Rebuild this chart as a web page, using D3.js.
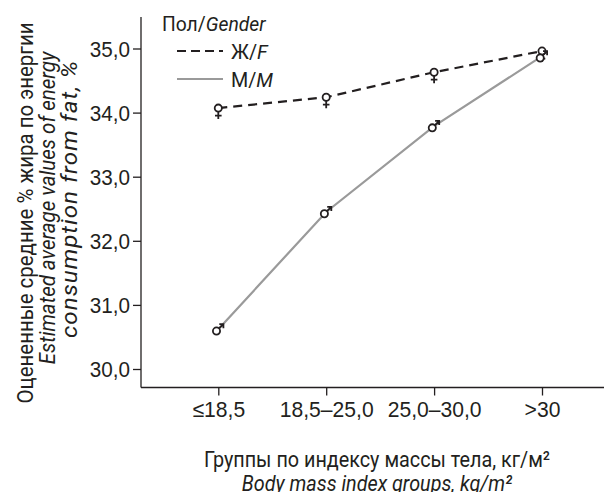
<!DOCTYPE html>
<html>
<head>
<meta charset="utf-8">
<script src="https://cdn.jsdelivr.net/npm/d3@7"></script>
<style>
  html, body { margin: 0; padding: 0; background: #fff; }
  svg { display: block; font-family: Roboto, "Liberation Sans", sans-serif; }
</style>
</head>
<body>
<svg id="chart" width="604" height="492"></svg>
<script>
// BMI groups and estimated mean share of energy from fat (%)
const categories = ["≤18,5", "18,5–25,0", "25,0–30,0", ">30"];
const female = [34.07, 34.24, 34.63, 34.96];
const male = [30.62, 32.45, 33.79, 34.88];
const yTicks = [30, 31, 32, 33, 34, 35];

const svg = d3.select("#chart");
const ink = "#231f20";
const grey = "#9a9a9a";

const x = d3.scalePoint().domain(categories).range([218.3, 542]);
const y = d3.scaleLinear().domain([30, 35]).range([369, 48.5]);

const axisX = 141, axisY = 387.5, yTop = 17;

// axis lines
svg.append("line").attr("x1", axisX).attr("x2", axisX).attr("y1", yTop).attr("y2", axisY)
  .attr("stroke", ink).attr("stroke-width", 1.3);
svg.append("line").attr("x1", axisX).attr("x2", 604).attr("y1", axisY).attr("y2", axisY)
  .attr("stroke", ink).attr("stroke-width", 1.3);

const fmt = d => d.toFixed(1).replace(".", ",");

// narrow text: scale glyphs horizontally around their anchor
function narrow(sel, sx) {
  sel.each(function () {
    const t = d3.select(this);
    const tx = +t.attr("x") || 0, ty = +t.attr("y") || 0;
    t.attr("x", 0).attr("y", 0)
      .attr("transform", `translate(${tx},${ty}) scale(${sx},1)`);
  });
}

const gy = svg.append("g").attr("transform", `translate(${axisX},0)`)
  .call(d3.axisLeft(y).tickValues(yTicks).tickFormat(fmt).tickSize(8).tickPadding(3));
gy.select(".domain").remove();
gy.selectAll("line").attr("stroke", ink).attr("stroke-width", 1.3);
gy.selectAll("text").attr("fill", ink).style("font-size", "22px").attr("dy", "0.36em")
  .call(narrow, 0.94);

const gx = svg.append("g").attr("transform", `translate(0,${axisY})`)
  .call(d3.axisBottom(x).tickSize(8).tickPadding(6));
gx.select(".domain").remove();
gx.selectAll("line").attr("stroke", ink).attr("stroke-width", 1.3);
gx.selectAll("text").attr("fill", ink).style("font-size", "22px").call(narrow, 0.96);

// series lines
const line = d3.line().x((d, i) => x(categories[i])).y(d => y(d));
svg.append("path").datum(male).attr("d", line)
  .attr("fill", "none").attr("stroke", grey).attr("stroke-width", 2.2);
svg.append("path").datum(female).attr("d", line)
  .attr("fill", "none").attr("stroke", ink).attr("stroke-width", 2.2)
  .attr("stroke-dasharray", "9,6");

// gender symbols at each point
const sym = svg.append("g").attr("fill", "none").attr("stroke", ink).attr("stroke-width", 1.8);
female.forEach((v, i) => {
  const g = sym.append("g").attr("transform", `translate(${x(categories[i])},${y(v)})`);
  g.append("circle").attr("r", 3.6).attr("fill", "#fff");
  g.append("path").attr("d", "M0,3.6V11M-3.3,7.5H3.3");
});
male.forEach((v, i) => {
  const g = sym.append("g").attr("transform", `translate(${x(categories[i])},${y(v)})`);
  g.append("circle").attr("cx", -1.8).attr("cy", 1.8).attr("r", 3.6).attr("fill", "#fff");
  g.append("path").attr("d", "M0.8,-0.8L4.8,-4.8M1,-5.1H5.1V-1");
});

// legend
const leg = svg.append("g").attr("fill", ink).style("font-size", "21px");
leg.append("text").attr("x", 162).attr("y", 31)
  .call(t => { t.append("tspan").text("Пол/"); t.append("tspan").attr("font-style", "italic").text("Gender"); })
  .call(narrow, 0.92);
svg.append("line").attr("x1", 177).attr("x2", 223).attr("y1", 51).attr("y2", 51)
  .attr("stroke", ink).attr("stroke-width", 2.2).attr("stroke-dasharray", "9,5");
svg.append("line").attr("x1", 177).attr("x2", 223).attr("y1", 79).attr("y2", 79)
  .attr("stroke", grey).attr("stroke-width", 2.2);
leg.append("text").attr("x", 231).attr("y", 59)
  .call(t => { t.append("tspan").text("Ж/"); t.append("tspan").attr("font-style", "italic").text("F"); })
  .call(narrow, 0.94);
leg.append("text").attr("x", 231).attr("y", 87)
  .call(t => { t.append("tspan").text("М/"); t.append("tspan").attr("font-style", "italic").text("M"); })
  .call(narrow, 0.94);

// y axis title (three lines)
const yTitle = [
  { text: "Оцененные средние % жира по энергии", italic: false, x: 33, cy: 213, sx: 0.93, ls: 0 },
  { text: "Estimated average values of energy", italic: true, x: 55, cy: 208, sx: 0.93, ls: 0 },
  { text: "consumption from fat, %", italic: true, x: 77, cy: 199, sx: 1.1, ls: 0.9 }
];
yTitle.forEach(l => {
  svg.append("text")
    .attr("transform", `translate(${l.x},${l.cy}) rotate(-90) scale(${l.sx},1)`)
    .attr("text-anchor", "middle").attr("fill", ink)
    .attr("font-style", l.italic ? "italic" : "normal")
    .style("letter-spacing", `${l.ls}px`)
    .style("font-size", "22px").text(l.text);
});

// x axis title (two lines)
svg.append("text").attr("transform", "translate(377,467) scale(0.9,1)").attr("text-anchor", "middle")
  .attr("fill", ink).style("font-size", "22px")
  .text("Группы по индексу массы тела, кг/м²");
svg.append("text").attr("transform", "translate(377,491) scale(0.9,1)").attr("text-anchor", "middle")
  .attr("fill", ink).attr("font-style", "italic").style("font-size", "22px")
  .text("Body mass index groups, kg/m²");
</script>
</body>
</html>
